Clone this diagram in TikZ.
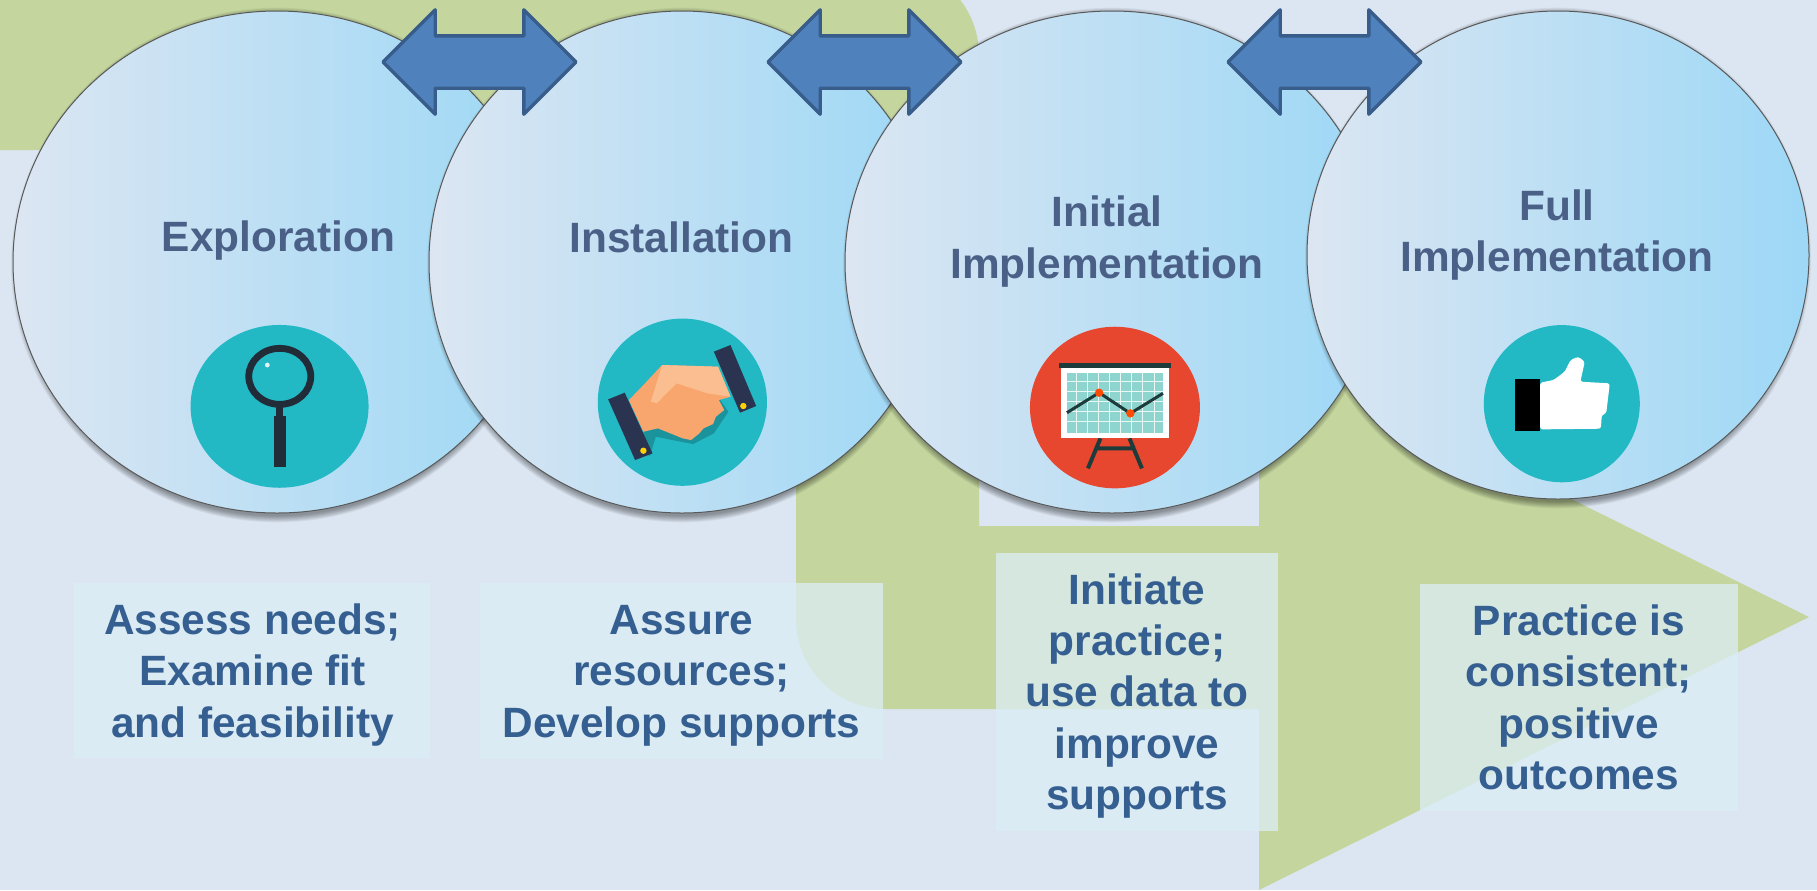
\documentclass[tikz,border=0pt]{standalone}
\usepackage{fontspec}
\setmainfont{Liberation Sans}
\usetikzlibrary{shapes.geometric,shapes.arrows}
\definecolor{bgc}{HTML}{DCE6F2}
\definecolor{greenc}{HTML}{C4D69E}
\definecolor{boxc}{HTML}{DBEEF4}
\definecolor{bubl}{HTML}{DCE6F2}
\definecolor{bubm}{HTML}{BFE4F8}
\definecolor{bubr}{HTML}{9DD8F6}
\definecolor{titlec}{HTML}{4A6087}
\definecolor{subc}{HTML}{365F91}
\definecolor{arrf}{HTML}{4F81BD}
\definecolor{arrd}{HTML}{385D8A}
\definecolor{tealc}{HTML}{22B8C4}
\definecolor{darkc}{HTML}{2A3350}
\definecolor{lensc}{HTML}{222C38}
\definecolor{redc}{HTML}{E8472F}
\definecolor{boardc}{HTML}{8FD5CF}
\definecolor{skinc}{HTML}{F9A56E}
\definecolor{skinl}{HTML}{FBBE90}
\definecolor{legc}{HTML}{1D3B3A}
\tikzset{
 bubble/.style={ellipse,inner sep=0pt,outer sep=0pt,draw=black!65,line width=0.5pt,left color=bubl,middle color=bubm,right color=bubr,shading angle=90},
 title/.style={inner sep=0pt,align=center,text=titlec,font=\fontsize{21.2}{25.6}\bfseries\selectfont},
 boxfill/.style={inner sep=0pt,outer sep=0pt,fill=boxc,fill opacity=.75},
 subtext/.style={inner sep=0pt,align=center,text=subc,font=\fontsize{21.2}{25.7}\bfseries\selectfont},
 blockarrow/.style={double arrow,draw=arrd,fill=arrf,line width=1.7pt,line join=round,inner sep=0pt,outer sep=0pt,minimum width=50.5pt,minimum height=96.5pt,double arrow head extend=13pt,double arrow tip angle=90,shape border rotate=0},
}
\newcommand{\bub}[5]{%
 \foreach \i in {0,...,7}{\fill[black,opacity=.055] (#2,#3+3) ellipse [x radius={(#4+\i-5)*0.5pt},y radius={(#5+\i*0.9)*0.5pt}];}
 \node[bubble,minimum width=#4 pt,minimum height=#5 pt] (#1) at (#2,#3) {};
}
\begin{document}
\begin{tikzpicture}[x=0.5pt,y=-0.5pt]
\useasboundingbox (0,0) rectangle (1817,890);
\clip (0,0) rectangle (1817,890);
\fill[bgc] (0,0) rectangle (1817,890);
% big bent arrow
\fill[greenc] (-10,-35) -- (889,-35) arc[start angle=90,end angle=0,radius=45pt] -- (979,526) -- (1259,526) -- (1259,344) -- (1809,617) -- (1259,890) -- (1259,709) -- (886,709) arc[start angle=-90,end angle=-180,radius=45pt] -- (796,150) -- (-10,150) -- cycle;
% bubbles
\bub{b1}{277}{262}{264}{251}
\bub{b2}{682}{262}{253}{251}
\bub{b3}{1112}{262}{267}{251}
\bub{b4}{1558}{255}{251}{244}
% block arrows
\node[blockarrow] (a12) at (479.5,62) {\rule{0pt}{24.5pt}};
\node[blockarrow] (a23) at (864.5,62) {\rule{0pt}{24.5pt}};
\node[blockarrow] (a34) at (1324.5,62) {\rule{0pt}{24.5pt}};
% titles
\node[title] (t1) at (278.5,241) {Exploration};
\node[title] (t2) at (681.5,237) {Installation};
\node[title] (t3) at (1107,241.5) {Initial\\Implementation};
\node[title] (t4) at (1557,235) {Full\\Implementation};
% text boxes
\node[boxfill,minimum width=178pt,minimum height=87.5pt] (x1) at (252,670.5) {};
\node[boxfill,minimum width=201.5pt,minimum height=88pt] (x2) at (681.5,671) {};
\node[boxfill,minimum width=141pt,minimum height=139pt] (x3) at (1137,692) {};
\node[boxfill,minimum width=159pt,minimum height=113.5pt] (x4) at (1579,697.5) {};
\node[subtext] (s1) at (252.5,675) {Assess needs;\\Examine fit\\and feasibility};
\node[subtext] (s2) at (681.5,675.5) {Assure\\resources;\\Develop supports};
\node[subtext] (s3) at (1137,696) {Initiate\\practice;\\use data to\\improve\\supports};
\node[subtext] (s4) at (1579,697.5) {Practice is\\consistent;\\positive\\outcomes};
% icons 1 and 2, in crop coordinates
\begin{scope}[xshift=75pt,yshift=-150pt,x=0.2073pt,y=-0.1667pt]
 \fill[tealc] (312.5,319) ellipse [x radius=44.5pt,y radius=40.7pt];
 \draw[lensc,line width=3.4pt] (313,229) ellipse [x radius=15.5pt,y radius=14pt];
 \fill[lensc] (305,310) rectangle (320,350);
 \fill[lensc] (300,347) rectangle (327,500);
 \fill[white!85!tealc] (283,195) circle [radius=1.2pt];
 \fill[tealc] (1284,306.5) ellipse [x radius=42.3pt,y radius=41.8pt];
 \fill[black!20!tealc] (1375,300) -- (1395,335) -- (1360,400) -- (1310,432) -- (1280,425) -- (1220,410) -- (1205,470) -- (1190,395) -- cycle;
 \fill[skinc] (1235,195) -- (1370,200) -- (1400,290) -- (1372,300) -- (1385,330) -- (1365,350) -- (1358,372) -- (1335,385) -- (1325,400) -- (1305,420) -- (1285,415) -- (1225,385) -- (1190,395) -- (1155,300) -- (1190,255) -- cycle;
 \fill[skinl] (1235,195) -- (1370,200) -- (1400,290) -- (1345,280) -- (1270,250) -- (1222,310) -- (1208,305) -- cycle;
 \fill[darkc] (1105,298) -- (1145,278) -- (1212,460) -- (1170,480) -- cycle;
 \fill[darkc] (1360,155) -- (1400,135) -- (1462,318) -- (1423,338) -- cycle;
 \fill[yellow!70!orange] (1190,452) circle [radius=1.6pt];
 \fill[yellow!70!orange] (1431,318) circle [radius=1.6pt];
\end{scope}
% icons 3 and 4, in crop coordinates
\begin{scope}[xshift=500pt,yshift=-150pt,x=0.2232pt,y=-0.1667pt]
 \fill[redc] (257.5,322.5) ellipse [x radius=42.5pt,y radius=40.4pt];
 \draw[legc,line width=2pt] (225,415) -- (197,505) (290,415) -- (318,505) (212,445) -- (303,445);
 \fill[white] (137,205) rectangle (378,415);
 \fill[boardc] (150,218) rectangle (365,400);
 \foreach \gx in {172,195,220,245,270,295,320,345}{\draw[white!80!boardc,line width=.5pt] (\gx,218) -- (\gx,400);}
 \foreach \gy in {245,275,305,335,365}{\draw[white!80!boardc,line width=.5pt] (150,\gy) -- (365,\gy);}
 \fill[legc] (132,188) rectangle (383,204);
 \draw[legc,line width=1.5pt] (150,338) -- (222,278) -- (292,340) -- (365,280);
 \fill[orange!60!red] (222,278) circle [radius=2.1pt];
 \fill[orange!60!red] (292,340) circle [radius=2.1pt];
 \fill[tealc] (1258.5,311) ellipse [x radius=39pt,y radius=39.3pt];
 \fill[black] (1153,238) rectangle (1210,393);
 \fill[white,rounded corners=1.2pt] (1210,248) -- (1240,240) -- (1265,215) -- (1278,180) -- (1295,170) -- (1310,185) -- (1300,245) -- (1366,250) -- (1362,295) -- (1358,340) -- (1348,345) -- (1346,386) -- (1210,388) -- cycle;
\end{scope}
\end{tikzpicture}
\end{document}
